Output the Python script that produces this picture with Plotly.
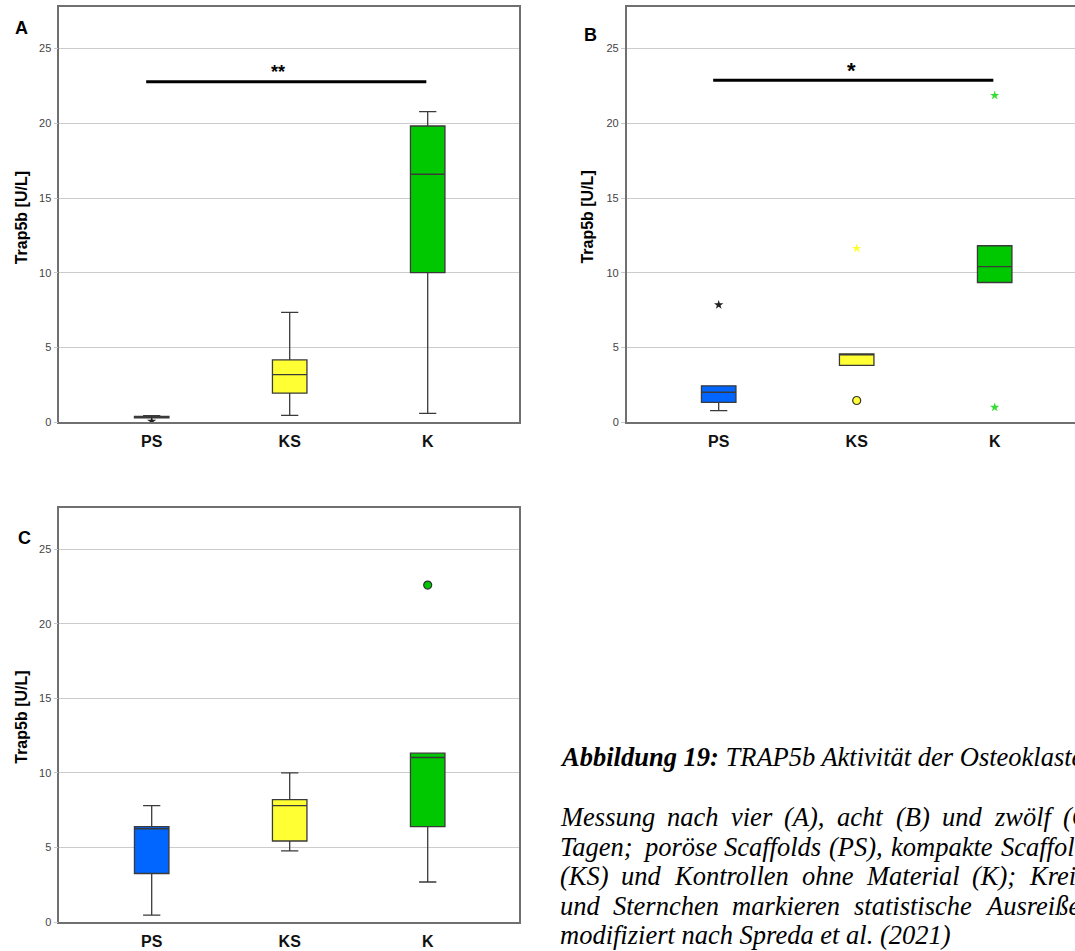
import plotly.graph_objects as go

W, H = 1075, 951

groups = ["PS", "KS", "K"]
group_pos = [0, 1, 2]
box_colors = ["#0066ff", "#ffff33", "#00c800"]

# Panel A: Trap5b [U/L] after four days
a_q1 = [0.30, 1.95, 10.01]
a_median = [0.36, 3.19, 16.59]
a_q3 = [0.40, 4.17, 19.82]
a_lower = [0.30, 0.47, 0.60]
a_upper = [0.45, 7.36, 20.78]
a_out_group = [0]
a_out_value = [0.07]
a_out_kind = ["star"]
a_out_color = ["#222222"]

# Panel B: after eight days
b_q1 = [1.33, 3.81, 9.35]
b_median = [2.01, 4.55, 10.41]
b_q3 = [2.44, 4.58, 11.81]
b_lower = [0.78, 3.81, 9.35]
b_upper = [2.44, 4.58, 11.81]
b_out_group = [0, 1, 1, 2, 2]
b_out_value = [7.86, 11.63, 1.46, 21.86, 1.00]
b_out_kind = ["star", "star", "circle", "star", "star"]
b_out_color = ["#222222", "#ffff33", "#ffff33", "#33dd33", "#33dd33"]

# Panel C: after twelve days
c_q1 = [3.26, 5.44, 6.40]
c_median = [6.26, 7.81, 11.04]
c_q3 = [6.41, 8.21, 11.33]
c_lower = [0.47, 4.78, 2.69]
c_upper = [7.81, 10.01, 11.33]
c_out_group = [2]
c_out_value = [22.60]
c_out_kind = ["circle"]
c_out_color = ["#00c800"]

y_ticks = [0, 5, 10, 15, 20, 25]
y_max = 27.78

panels = [
    dict(q1=a_q1, med=a_median, q3=a_q3, lo=a_lower, hi=a_upper,
         og=a_out_group, ov=a_out_value, ok=a_out_kind, oc=a_out_color),
    dict(q1=b_q1, med=b_median, q3=b_q3, lo=b_lower, hi=b_upper,
         og=b_out_group, ov=b_out_value, ok=b_out_kind, oc=b_out_color),
    dict(q1=c_q1, med=c_median, q3=c_q3, lo=c_lower, hi=c_upper,
         og=c_out_group, ov=c_out_value, ok=c_out_kind, oc=c_out_color),
]

# panel frames in pixels: left, right, top, bottom
frames = [(59.3, 519.3, 7, 425), (626.7, 1075, 7, 425), (59.3, 519.3, 511, 928)]
px_per_cat = 138.0
first_cat_px = [151.7, 718.7, 151.7]

fig = go.Figure()

for i, p in enumerate(panels):
    sfx = "" if i == 0 else str(i + 1)
    for g in range(3):
        fig.add_trace(go.Box(
            x=[group_pos[g]], q1=[p["q1"][g]], median=[p["med"][g]], q3=[p["q3"][g]],
            lowerfence=[p["lo"][g]], upperfence=[p["hi"][g]],
            width=0.25, whiskerwidth=0.5, boxpoints=False,
            fillcolor=box_colors[g], line=dict(color="#3a3a3a", width=1.3),
            xaxis="x" + sfx, yaxis="y" + sfx, showlegend=False, hoverinfo="skip",
        ))
    for kind in ("circle", "star"):
        idx = [k for k, kk in enumerate(p["ok"]) if kk == kind]
        if not idx:
            continue
        fig.add_trace(go.Scatter(
            x=[group_pos[p["og"][k]] for k in idx],
            y=[p["ov"][k] for k in idx],
            mode="markers",
            marker=dict(
                symbol=kind,
                size=8 if kind == "circle" else 7,
                color=[p["oc"][k] for k in idx],
                line=dict(color="#333333", width=1.2) if kind == "circle" else dict(width=0),
            ),
            xaxis="x" + sfx, yaxis="y" + sfx, showlegend=False, hoverinfo="skip",
        ))

axis_line = "#707070"
layout = dict(
    width=W, height=H,
    margin=dict(l=0, r=0, t=0, b=0),
    paper_bgcolor="white", plot_bgcolor="white",
    font=dict(family="Liberation Sans, Arial, sans-serif", color="#222"),
)
for i, (l, r, t, b) in enumerate(frames):
    sfx = "" if i == 0 else str(i + 1)
    x0 = (l - first_cat_px[i]) / px_per_cat
    x1 = (r - first_cat_px[i]) / px_per_cat
    layout["xaxis" + sfx] = dict(
        domain=[l / W, r / W], range=[x0, x1],
        tickvals=group_pos, ticktext=["<b>%s</b>" % g for g in groups],
        tickfont=dict(size=16, color="#111"), ticks="", ticklabelstandoff=4,
        showgrid=False, showline=True, linecolor=axis_line, linewidth=1.5,
        mirror=True, zeroline=False, anchor="y" + sfx, fixedrange=True,
    )
    layout["yaxis" + sfx] = dict(
        domain=[(H - b) / H, (H - t) / H], range=[0, y_max],
        tickvals=y_ticks, tickfont=dict(size=11, color="#444"),
        ticks="outside", ticklen=4, tickcolor="#c8c8c8",
        showgrid=True, gridcolor="#cccccc", gridwidth=1,
        showline=True, linecolor=axis_line, linewidth=1.5,
        mirror=(i != 1), zeroline=False,
        anchor="x" + sfx, fixedrange=True,
    )

fig.update_layout(**layout)

shapes = []
annotations = []

# significance bars
sig = [("", -0.04, 1.99, 22.77, "**", 0.915, 23.4, 18), ("2", -0.04, 1.99, 22.88, "*", 0.964, 23.55, 22)]
for sfx, xs, xe, yv, txt, tx, ty, fs in sig:
    shapes.append(dict(type="line", xref="x" + sfx, yref="y" + sfx, x0=xs, x1=xe, y0=yv, y1=yv,
                       line=dict(color="black", width=3)))
    annotations.append(dict(xref="x" + sfx, yref="y" + sfx, x=tx, y=ty, text="<b>%s</b>" % txt,
                            showarrow=False, font=dict(size=fs, color="black"),
                            xanchor="center", yanchor="middle"))

# panel letters and y-axis titles
for letter, lx, ly, tx, ty in [("A", 21.7, 28.3, 21.7, 219), ("B", 590, 35, 588, 219), ("C", 24.5, 541.7, 21.3, 722)]:
    annotations.append(dict(xref="paper", yref="paper", x=lx / W, y=1 - ly / H, text="<b>%s</b>" % letter,
                            showarrow=False, font=dict(size=18, color="black"),
                            xanchor="center", yanchor="middle"))
    annotations.append(dict(xref="paper", yref="paper", x=tx / W, y=1 - ty / H, text="<b>Trap5b [U/L]</b>",
                            textangle=-90, showarrow=False, font=dict(size=16, color="black"),
                            xanchor="center", yanchor="middle"))

# figure caption: block-justified serif italic text that runs past the right page edge
serif = "Liberation Serif, Times New Roman, serif"
cap_size = 26.5
cap_left = 558.0
cap_width = 538.0
# advance widths of the italic serif face (per 1000 em) used to spread justified words
italic_adv = {
    "a": 500, "b": 500, "c": 444, "d": 500, "e": 444, "f": 278, "g": 500, "h": 500, "i": 278,
    "k": 444, "l": 278, "m": 722, "n": 500, "o": 500, "p": 500, "r": 389, "s": 389, "t": 278,
    "u": 500, "v": 444, "w": 667, "z": 389, "ö": 500, "ß": 500, "A": 611, "B": 611, "C": 667,
    "K": 667, "M": 833, "P": 611, "S": 500, "T": 556, "(": 333, ")": 333, ",": 250, ";": 333,
}


def word_px(word):
    return sum(italic_adv.get(ch, 500) for ch in word) * cap_size / 1000.0


def add_caption_line(y_px, text):
    annotations.append(dict(xref="paper", yref="paper", x=cap_left / W, y=1 - y_px / H,
                            text=text, showarrow=False,
                            font=dict(family=serif, size=cap_size, color="black"),
                            xanchor="left", yanchor="middle"))


add_caption_line(762, "<b><i>Abbildung 19:</i></b><i> TRAP5b Aktivität der Osteoklasten</i>")

justified_lines = [
    (822, "Messung nach vier (A), acht (B) und zwölf (C)"),
    (852, "Tagen; poröse Scaffolds (PS), kompakte Scaffolds"),
    (882, "(KS) und Kontrollen ohne Material (K); Kreise"),
    (912, "und Sternchen markieren statistische Ausreißer;"),
]
for ly, line in justified_lines:
    words = line.split(" ")
    widths = [word_px(w_) for w_ in words]
    gap = (cap_width - sum(widths)) / (len(words) - 1)
    xpos = cap_left
    for word, wpx in zip(words, widths):
        annotations.append(dict(xref="paper", yref="paper", x=xpos / W, y=1 - ly / H,
                                text="<i>%s</i>" % word, showarrow=False,
                                font=dict(family=serif, size=cap_size, color="black"),
                                xanchor="left", yanchor="middle"))
        xpos += wpx + gap

add_caption_line(941, "<i>modifiziert nach Spreda et al. (2021)</i>")

fig.update_layout(shapes=shapes, annotations=annotations)
fig.write_html("out.html")
